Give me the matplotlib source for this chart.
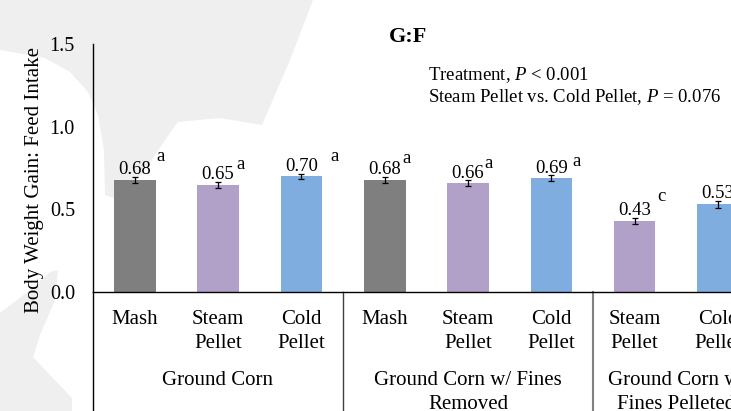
import numpy as np
import matplotlib.pyplot as plt
from matplotlib.patches import Polygon
import matplotlib.transforms as mtransforms

plt.rcParams['font.family'] = ['Liberation Serif', 'DejaVu Serif']
plt.rcParams['mathtext.fontset'] = 'custom'
plt.rcParams['mathtext.rm'] = 'Liberation Serif'
plt.rcParams['mathtext.it'] = 'Liberation Serif:italic'

# data
categories = ['Mash', 'Steam\nPellet', 'Cold\nPellet',
              'Mash', 'Steam\nPellet', 'Cold\nPellet',
              'Steam\nPellet', 'Cold\nPellet']
kinds = ['mash', 'steam', 'cold', 'mash', 'steam', 'cold', 'steam', 'cold']
gf = [0.68, 0.65, 0.70, 0.68, 0.66, 0.69, 0.43, 0.53]
sem = [0.018, 0.018, 0.016, 0.018, 0.016, 0.016, 0.02, 0.02]
letters = ['a', 'a', 'a', 'a', 'a', 'a', 'c', 'b']
groups = ['Ground Corn', 'Ground Corn w/ Fines\nRemoved', 'Ground Corn w/\nFines Pelleted']
group_members = [[0, 1, 2], [3, 4, 5], [6, 7]]

# style / layout
colors = {'mash': '#7f7f7f', 'steam': '#b1a0c7', 'cold': '#80ade0'}
letter_dx = [19, 16, 24, 16, 15, 18, 19, 19]   # points
letter_dy = [8, 6, 6, 7, 6, 4, 9, 9]           # points

fig = plt.figure(figsize=(7.31, 4.11), dpi=100)

# light grey background shapes
W, H = 731, 411
shape1 = [(0, 0), (313, 0), (290, 60), (262, 125), (220, 118), (178, 122),
          (165, 140), (145, 170), (120, 200), (105, 195), (104, 150),
          (98, 115), (88, 92), (70, 72), (45, 58), (0, 50)]
shape2 = [(0, 313), (30, 290), (50, 272), (58, 270), (55, 300), (40, 335),
          (33, 357), (50, 375), (72, 398), (72, 411), (0, 411)]
for shp in (shape1, shape2):
    pts = [(px / W, 1 - py / H) for px, py in shp]
    fig.add_artist(Polygon(pts, closed=True, facecolor='#efefef',
                           edgecolor='none', transform=fig.transFigure, zorder=0))

ax = fig.add_axes([93 / W, (H - 292) / H, (W - 93) / W, 248 / H])
ax.set_facecolor('none')

x = np.arange(len(gf))
ax.bar(x, gf, width=0.5, color=[colors[k] for k in kinds], zorder=2)
ax.errorbar(x, gf, yerr=sem, fmt='none', ecolor='black', elinewidth=0.9,
            capsize=2, capthick=0.9, zorder=3)

for i in range(len(gf)):
    top = gf[i] + sem[i]
    ax.annotate(f'{gf[i]:.2f}', (i, top), xytext=(0, -1), textcoords='offset points',
                ha='center', va='bottom', fontsize=13.5)
    ax.annotate(letters[i], (i, top), xytext=(letter_dx[i], letter_dy[i]),
                textcoords='offset points', ha='center', va='bottom', fontsize=13.5,
                annotation_clip=False)

ax.set_xlim(-0.5, 7.156)
ax.set_ylim(0, 1.5)
ax.set_yticks([0, 0.5, 1.0, 1.5])
ax.set_yticklabels(['0.0', '0.5', '1.0', '1.5'], fontsize=14.5)
ax.tick_params(axis='y', length=0, pad=13)
ax.set_xticks(x)
ax.set_xticklabels(categories, fontsize=15, linespacing=1.35)
ax.tick_params(axis='x', length=0, pad=13)

for s in ['top', 'right']:
    ax.spines[s].set_visible(False)
ax.spines['left'].set_linewidth(1.0)
ax.spines['bottom'].set_linewidth(1.0)

# extend the category axis lines below the plot
trans = mtransforms.blended_transform_factory(ax.transData, ax.transAxes)
ax.plot([-0.5, -0.5], [0, -0.5], color='black', lw=1.0, transform=trans, clip_on=False)
ax.plot([2.5, 2.5], [0, -0.5], color='#404040', lw=1.0, transform=trans, clip_on=False)
ax.plot([5.5, 5.5], [0, -0.5], color='#808080', lw=1.5, transform=trans, clip_on=False)

for name, members in zip(groups, group_members):
    ax.text(np.mean(members), -0.32, name, transform=trans, ha='center', va='top',
            fontsize=15, linespacing=1.3, clip_on=False)

fig.text(35 / W, 1 - 180 / H, 'Body Weight Gain: Feed Intake', rotation=90,
         ha='center', va='center', fontsize=15)
fig.text(408 / W, 1 - 37 / H, 'G:F', ha='center', va='center', fontsize=16,
         fontweight='bold')
fig.text(428 / W, 1 - 75 / H, r'Treatment, $P$ < 0.001', ha='left', va='center',
         fontsize=13.5)
fig.text(428 / W, 1 - 97 / H, r'Steam Pellet vs. Cold Pellet, $P$ = 0.076',
         ha='left', va='center', fontsize=13.5)

fig.savefig('out.png', dpi=100)
